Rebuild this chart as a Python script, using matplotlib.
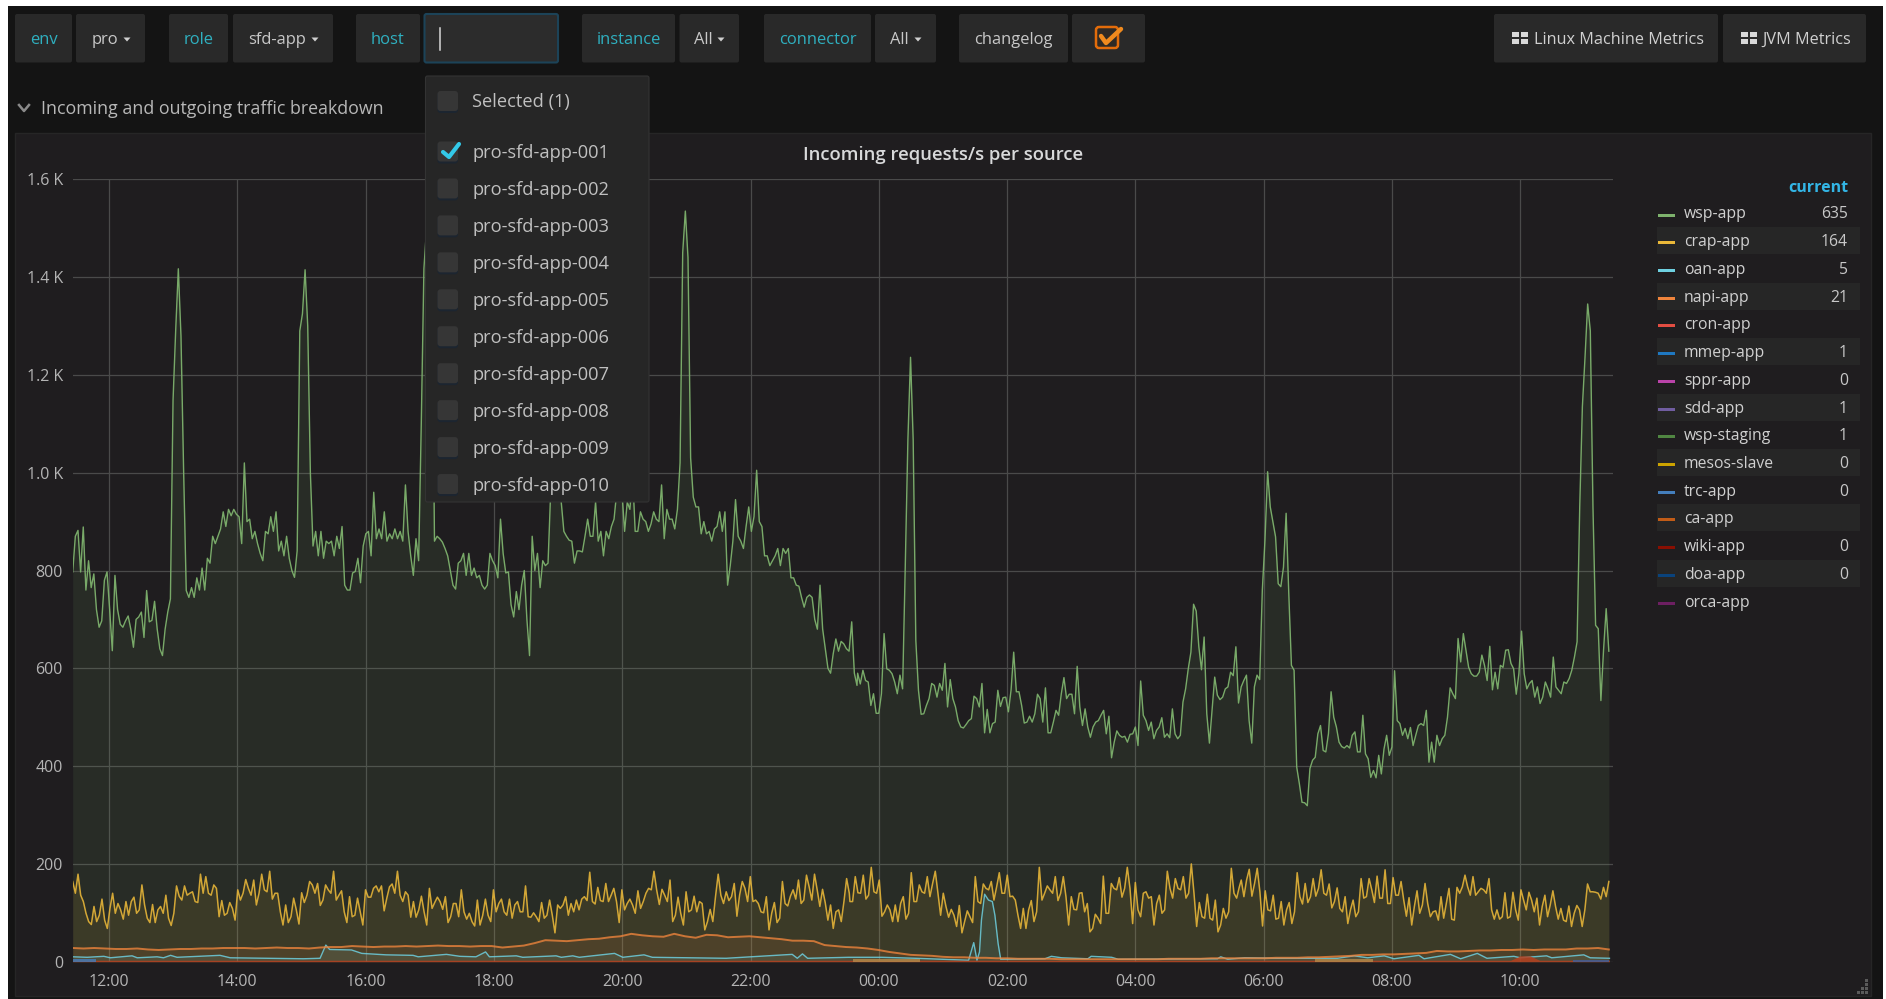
import numpy as np
import matplotlib
matplotlib.use("Agg")
import matplotlib.pyplot as plt
from matplotlib.patches import Rectangle, FancyBboxPatch, Polygon

plt.rcParams['font.family'] = ['Open Sans', 'DejaVu Sans']

# ---------- data ----------
wsp_part1 = [797,870,882,797,889,760,820,765,793,720,684,697,780,797,720,636,790,720,690,684,
697,707,680,643,700,705,715,663,759,695,698,737,680,640,626,680,715,742,1148,1291,1417,1280,1005,759,745,765,745,785,760,805,760,825,815,870,855,870,885,920,890,925,912,925,915,910,855,1020,900,905,865,880,855,835,820,880,875,910,880,920,840,860,830,870,825,800,786,840,1290,1325,1415,1300,1000,850,880,830,880,825,860,855,860,830,870,845,890,770,760,760,795,798,825,775,850,875,880,830,960,865,885,865,920,860,875,865,885,865,880,860,975,880,830,790,865,820,1100,1417,1500,1560,1450,860,870,865,858,845,830,800,770,762,815,820,835,790,835,790,805,785,790,770,762,770,835,820,810,785,905,835,795,797,730,705,757,720,770,800,700,626,870,800,835,765,820,810,815,960,1030,1100,1080,940,880,870,862,860,815,840,840,838,870,905,870,870,940,860,880,830,880,865,890,905,960,1050,960,880,940,925,1000,880,880,920,905,900,880,895,920,905,900,975,865,925,905,905,885,925,1020,1450,1535,1440,1030,950,930,930,875,900,875,880,860,885,890,920,880,920,770,810,860,945,870,860,845,890,930,880,910,1005,900,890,830,830,810,820,830,845,810,845,835,845,785,785,770,768,745,725,745,750,745,700,680,770,680,640,600,590,630,660,635,655,650,640,635,695,590,565]
wsp_part2 = [590,568,596,575,572,524,548,508,508,548,671,599,596,589,572,548,586,558,807,1067,1236,1067,657,555,506,507,524,538,569,565,541,569,555,610,521,577,538,521,493,480,478,485,493,497,543,538,521,569,468,516,468,487,490,555,522,540,541,511,555,633,552,552,524,488,490,502,490,507,547,538,490,560,468,468,490,514,504,548,581,538,547,547,507,604,521,483,517,480,459,480,490,493,504,514,466,502,417,449,472,463,459,461,449,465,466,480,442,574,504,493,473,490,456,473,480,499,459,466,458,517,466,456,463,531,558,599,633,731,717,644,597,664,507,447,514,582,545,536,541,558,562,592,585,644,529,562,575,586,493,447,562,586,577,760,862,1002,930,899,869,773,767,807,917,753,606,596,398,364,326,325,319,395,412,418,466,483,432,429,466,552,500,480,449,440,437,442,437,463,470,429,429,504,425,415,377,391,376,422,384,435,463,422,439,595,493,487,463,477,456,479,442,463,483,487,483,514,408,449,408,463,442,456,463,500,560,548,538,661,613,671,637,602,589,584,584,592,627,606,575,645,556,592,558,606,602,637,638,610,599,547,589,676,589,558,569,575,541,562,528,541,572,558,541,623,562,555,548,572,569,579,596,623,654,930,1135,1236,1345,1290,930,688,681,534,637,722,635]

crap_part1 = [164,140,179,136,123,99,82,76,113,82,95,128,85,68,109,140,99,119,106,87,123,95,123,132,99,106,157,116,89,80,117,80,106,113,99,136,89,74,99,155,134,126,155,136,140,143,123,121,179,140,174,140,136,157,150,92,125,95,99,121,109,85,147,126,140,168,150,136,167,116,140,179,147,143,185,128,140,140,102,75,116,80,92,130,106,77,141,121,136,164,157,140,160,115,126,157,147,140,185,126,136,145,102,80,133,92,95,130,102,75,147,132,132,150,155,143,155,104,130,153,159,140,185,136,123,143,136,91,123,91,106,134,102,75,150,109,121,132,123,107,133,80,92,119,119,92]
crap_part2 = [147,102,87,99,82,73,126,75,95,128,95,82,147,102,119,128,102,95,128,89,116,123,102,102,155,92,91,100,92,82,121,89,95,126,95,59,116,109,116,133,95,119,102,126,106,128,133,125,183,123,118,152,125,123,160,123,136,150,123,80,147,106,119,128,116,99,145,109,123,140,150,147,185,147,117,148,136,123,167,82,95,132,99,75,143,102,106,134,102,123,119,65,82,107,82,133,179,136,119,143,125,133,160,93,136,164,150,123,174,123,126,119,102,100,133,65,99,121,80,89,164,119,114,134,147,128,167,119,126,177,153,126,179,147,113,148,121,85,116,68,102,106,82,123,170,140]
crap_part3 = [123,123,174,141,140,177,128,136,193,143,140,167,93,102,116,106,82,116,82,119,133,87,99,182,123,123,157,143,140,174,133,160,185,140,95,140,113,91,107,95,72,115,59,82,104,92,80,174,123,119,159,150,147,164,126,153,182,140,140,177,133,134,126,95,68,109,68,106,125,82,102,193,126,140,155,147,140,174,125,140,174,133,75,133,107,106,140,141,102,119,61,68,97,89,78,175,99,99,160,150,147,172,132,150,193,150,78,162,106,92,140,143,130,133,75,119,136,99,106,185,150,130,170,150,147,174,130,140,200,140,72,121,92,89,138,89,85,126,61,75,109,89,102,191,140,130,153]
crap_part4 = [167,133,167,189,134,160,191,143,73,145,106,104,136,87,89,123,75,106,121,78,102,182,133,118,160,121,133,170,134,150,188,140,136,159,110,123,151,109,102,133,78,106,126,92,102,170,130,133,170,147,121,175,130,130,188,119,119,172,136,136,164,126,93,131,75,113,145,99,116,160,119,92,102,104,85,133,89,119,150,87,85,152,140,153,177,153,136,174,136,143,150,147,140,170,106,87,106,87,92,141,89,92,142,106,85,147,126,106,142,126,102,130,75,113,136,92,116,145,113,87,109,85,82,114,72,99,115,106,72,106,159,143,143,142,140,128,152,133,164]

napi_values = [28,27,28,27,26,26,27,25,24,25,26,26,27,27,28,28,28,27,28,29,28,28,27,29,30,30,32,31,30,31,31,32,31,32,33,32,
32,31,32,32,29,31,33,38,44,43,42,44,46,47,50,52,57,54,52,51,57,52,49,55,54,50,51,52,50,48,46,43,43,42,34,32,
30,29,27,24,20,17,14,13,12,10,9,9,8,8,7,7,6,6,6,6,5,5,5,5,5,5,5,5,5,5,6,6,6,6,7,7,
7,7,7,7,8,8,8,9,9,10,11,12,14,14,15,15,16,17,18,22,21,21,22,23,23,24,24,25,24,25,25,25,27,27,28,25]

oan_hours = [-0.566,-0.34,-0.08,0.02,0.36,0.44,0.75,0.85,0.96,1.06,1.73,1.89,3.03,3.29,3.38,3.44,3.78,3.94,4.32,4.74,4.82,5.26,5.47,5.72,5.87,5.93,6.35,6.45,6.97,7.05,7.23,7.33,7.88,8.01,8.34,8.47,9.62,10.65,10.73,10.81,10.89,11.53,12.05,12.57,13.4,13.48,13.53,13.57,13.6,13.65,13.71,13.77,13.81,13.86,13.9,14.59,14.69,14.85,15.26,15.31,15.63,15.73,17.28,17.33,17.44,17.7,18.22,19.15,19.41,19.62,19.88,20.03,20.42,20.5,20.91,21.07,21.33,21.48,21.9,22.0,22.41,22.49,22.99,23.09,23.39]
oan_values = [10,9,11,8,12,8,10,8,13,9,13,8,6,7,34,25,24,17,14,13,10,15,11,10,20,10,12,9,12,9,12,9,17,9,14,9,7,15,7,16,7,9,9,7,3,39,3,20,85,138,126,123,95,37,5,6,11,8,6,11,9,5,6,10,5,8,7,7,12,8,12,6,13,6,15,6,17,7,11,8,12,8,14,8,7]

cron_hours = [-0.566,21.85,22.0,22.15,22.3,23.39]
cron_values = [3,3,12,12,3,3]

mmep_hours = [-0.566,-0.2]
mmep_values = [5,5]
trc_hours = [22.82,23.39]
trc_values = [4,4]
ca_hours = [11.6,12.64]
ca_values = [5,5]
mesos_hours = [18.8,19.7]
mesos_values = [5,5]

time_labels = ['12:00','14:00','16:00','18:00','20:00','22:00','00:00','02:00','04:00','06:00','08:00','10:00']
time_ticks = [0,2,4,6,8,10,12,14,16,18,20,22]
y_ticks = [0,200,400,600,800,1000,1200,1400,1600]
y_labels = ['0','200','400','600','800','1.0 K','1.2 K','1.4 K','1.6 K']

legend_names = ['wsp-app','crap-app','oan-app','napi-app','cron-app','mmep-app','sppr-app','sdd-app','wsp-staging','mesos-slave','trc-app','ca-app','wiki-app','doa-app','orca-app']
legend_current = ['635','164','5','21','','1','0','1','1','0','0','','0','0','']
legend_colors = ['#7eb26d','#eab839','#6ed0e0','#ef843c','#e24d42','#1f78c1','#ba43a9','#705da0','#508642','#cca300','#447ebc','#c15c17','#890f02','#0a437c','#6d1f62']
hosts = ['pro-sfd-app-%03d' % n for n in range(1, 11)]

# ---------- canvas ----------
W, H = 1886, 999
fig = plt.figure(figsize=(W/100, H/100), dpi=100, facecolor='white')
bg = fig.add_axes([0, 0, 1, 1], zorder=0)
fg = fig.add_axes([0, 0, 1, 1], zorder=3)
for a in (bg, fg):
    a.set_xlim(0, W); a.set_ylim(H, 0); a.axis('off')
fg.patch.set_alpha(0)

def box(ax, x0, y0, x1, y1, fc, ec='none', lw=0, z=1, r=2):
    ax.add_patch(FancyBboxPatch((x0+r, y0+r), x1-x0-2*r, y1-y0-2*r,
                 boxstyle=f"round,pad={r},rounding_size={r}", fc=fc, ec=ec, lw=lw, zorder=z))

def txt(ax, x, y, s, px, color='#c8c8c8', ha='left', va='center', **k):
    ax.text(x, y+2, s, fontsize=px*0.72, color=color, ha=ha, va=va, **k)

bg.add_patch(Rectangle((8, 6), 1875, 993, fc='#141414', ec='none'))
bg.add_patch(Rectangle((15, 133), 1856, 863, fc='#1f1d1f', ec='#262626', lw=1))

TEAL = '#2fb0c0'
BTN = '#292929'
def button(x0, x1, label, color='#c8c8c8', caret=False, cx=None):
    box(bg, x0, 14, x1, 62.5, BTN)
    if label:
        tx = (x0+x1)/2 - (6 if caret else 0)
        txt(bg, tx, 38, label, 16.5, color, ha='center')
    if caret:
        c = x1-18 if cx is None else cx
        bg.add_patch(Polygon([[c-3.5, 37.5], [c+3.5, 37.5], [c, 41.5]], fc='#d0d0d0', ec='none', zorder=3))

button(15, 72, 'env', TEAL)
button(76, 145, 'pro', caret=True)
button(169, 228, 'role', TEAL)
button(233, 333, 'sfd-app', caret=True)
button(356, 420, 'host', TEAL)
box(bg, 424.5, 14, 558, 62.5, '#2c2c2c', ec='#1c4358', lw=1.5)
bg.plot([440, 440], [28, 50], color='#d8d8d8', lw=1.1, zorder=3)
button(582, 675, 'instance', TEAL)
button(679.5, 739, 'All', caret=True)
button(764, 871, 'connector', TEAL)
button(875, 936, 'All', caret=True)
button(959, 1068, 'changelog')
button(1072, 1145, '')
box(bg, 1096, 27, 1118, 48, '#2f2a25', ec='#e36c0a', lw=1.8, z=3, r=3)
bg.plot([1101, 1106, 1121], [36, 43, 29], color='#f08a1e', lw=3.2, zorder=4, solid_capstyle='round')

for x0, x1, label, tx, ix in [(1494, 1718, 'Linux Machine Metrics', 1534, 1512), (1723, 1866, 'JVM Metrics', 1762, 1741)]:
    box(bg, x0, 14, x1, 62.5, BTN)
    txt(bg, tx, 38, label, 16.3, '#d0d0d0')
    for dx in (0, 8.5):
        for dy in (0, 6.5):
            bg.add_patch(Rectangle((ix+dx, 32+dy), 7, 5, fc='#d8d8d8', ec='none', zorder=3))

bg.plot([19, 24, 29], [105, 111, 105], color='#8a8a8a', lw=1.8, zorder=3)
txt(bg, 41, 107.5, 'Incoming and outgoing traffic breakdown', 17.7, '#b8b8b8')
txt(bg, 943, 153, 'Incoming requests/s per source', 18.5, '#d8d9da', ha='center', fontweight='semibold')

# ---------- chart ----------
PX = 64.15
x_min = -0.566
x_max = (1612.5-109)/PX
left, right, top, bottom = 72.7, 1612.5, 179.3, 961.7
ax = fig.add_axes([left/W, 1-bottom/H, (right-left)/W, (bottom-top)/H], zorder=1)
ax.patch.set_alpha(0)
ax.set_xlim(x_min, x_max)
ax.set_ylim(0, 1600)
for s in ax.spines.values():
    s.set_visible(False)
ax.set_xticks(time_ticks)
ax.set_xticklabels(time_labels)
ax.set_yticks(y_ticks)
ax.set_yticklabels(y_labels)
ax.tick_params(length=0, colors='#b4b4b4', labelsize=16*0.72, pad=7)
ax.tick_params(axis='x', pad=9)
ax.grid(True, color='#4a4a4a', lw=0.9, zorder=1)
ax.set_axisbelow(True)

t_wsp = np.concatenate([np.linspace(x_min, 11.66, len(wsp_part1)), np.linspace(11.67, 23.38, len(wsp_part2))])
wsp = np.array(wsp_part1 + wsp_part2, float)
t_crap = np.concatenate([np.linspace(x_min, 5.451, len(crap_part1)), np.linspace(5.492, 11.54, len(crap_part2)),
                         np.linspace(11.55, 17.62, len(crap_part3)), np.linspace(17.65, 23.38, len(crap_part4))])
crap = np.array(crap_part1 + crap_part2 + crap_part3 + crap_part4, float)
t_napi = np.linspace(x_min, 23.38, len(napi_values))

series = [
    (t_wsp, wsp, legend_colors[0], 1.0, 0.95),
    (t_crap, crap, legend_colors[1], 1.1, 0.88),
    (np.array(oan_hours), np.array(oan_values, float), legend_colors[2], 1.0, 0.85),
    (t_napi, np.array(napi_values, float), legend_colors[3], 1.4, 0.8),
]
for t, v, c, lw, al in series:
    ax.fill_between(t, 0, v, color=c, alpha=0.1, lw=0, zorder=2)
    ax.plot(t, v, color=c, lw=lw, alpha=al, zorder=3, solid_joinstyle='round')

ax.fill_between(cron_hours, 0, cron_values, color='#b5401f', alpha=0.85, lw=0, zorder=4)
for h, v, c in [(mmep_hours, mmep_values, '#447ebc'), (trc_hours, trc_values, '#3f5f9c'),
                (ca_hours, ca_values, '#b58a4a'), (mesos_hours, mesos_values, '#b58a4a')]:
    ax.fill_between(h, 0, v, color=c, alpha=0.8, lw=0, zorder=5)

# ---------- legend ----------
txt(bg, 1848, 186.5, 'current', 16, '#33b5e5', ha='right', fontweight='bold')
row0, dy = 213, 27.72
for i, (n, v, c) in enumerate(zip(legend_names, legend_current, legend_colors)):
    y = row0 + i*dy
    if i % 2 == 1:
        bg.add_patch(Rectangle((1657, y-13.5), 203, 27, fc='#262626', ec='none', zorder=1))
    bg.add_patch(Rectangle((1658, y+0.5), 17, 3, fc=c, ec='none', zorder=2))
    txt(bg, 1684, y-0.5, n, 15.8, '#d0d0d0')
    if v:
        txt(bg, 1848, y-0.5, v, 15.8, '#c8c8c8', ha='right')

for dx, dy_ in [(0, 0), (4, 0), (8, 0), (4, -4), (8, -4), (8, -8), (8, -12)]:
    bg.add_patch(Rectangle((1861+dx-4, 991+dy_), 2.5, 2.5, fc='#5a5a5a', ec='none', zorder=2))

# ---------- dropdown ----------
box(fg, 425.5, 76, 649, 502, '#262626', ec='#333333', lw=0.8, z=1, r=2)
def check(y):
    box(fg, 437.5, y-9, 458, y+12, '#1c2530', z=2, r=3)
    box(fg, 437.5, y-10, 458, y+10, '#363636', z=3, r=3)
check(101)
txt(fg, 472.5, 100.5, 'Selected (1)', 18.3, '#c0c0c0', zorder=4)
for i, h in enumerate(hosts):
    y = 151.5 + i*36.95
    check(y)
    txt(fg, 472.5, y-0.5, h, 18.3, '#c0c0c0', zorder=4)
fg.plot([443, 449, 459], [152, 157, 144], color='#33c9e8', lw=3, zorder=5, solid_capstyle='round')

fig.savefig('out.png', dpi=100, facecolor='white')
